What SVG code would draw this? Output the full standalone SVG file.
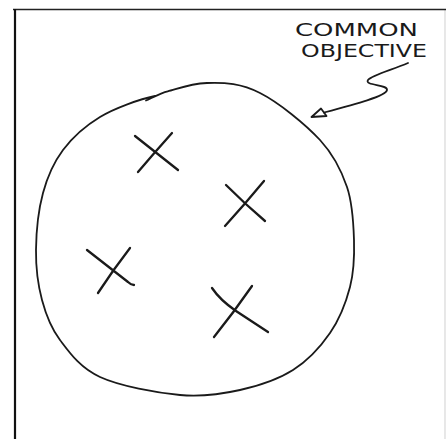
<svg xmlns="http://www.w3.org/2000/svg" width="446" height="439" viewBox="0 0 446 439">
<style>
.ink{fill:none;stroke:#1a1a1a;stroke-linecap:round;stroke-linejoin:round}
.thin{stroke-width:1.8}
.x{stroke-width:2.3}
.lbl{font-family:"DejaVu Sans","Liberation Sans",sans-serif;font-size:17px;fill:#1a1a1a}
</style>
<rect width="446" height="439" fill="#fff"/>
<g id="frame">
<line x1="445" y1="9" x2="445" y2="439" stroke="#d8d8d8" stroke-width="1.2"/>
<line x1="13" y1="9.5" x2="446" y2="9.5" stroke="#222" stroke-width="1.6"/>
<line x1="15" y1="9" x2="15" y2="439" stroke="#111" stroke-width="2.2"/>
</g>
<g id="objective-circle">
<path class="ink thin" d="M146,100.5 C150,99 160,93 167.8,91.3 S188.7,83.7 207,83 C225.3,82.3 241.2,83.5 260,93 C278.8,102.5 305.5,124.3 320,140 C334.5,155.7 341.3,170.3 347,187 C352.7,203.7 353.5,223.3 354,240 C354.5,256.7 354,271.5 350,287 C346,302.5 339.5,319.2 330,333 C320.5,346.8 308,360.5 293,370 C278,379.5 258.8,385.8 240,390 C221.2,394.2 203.3,397.2 180,395 C156.7,392.8 120,386.2 100,377 C80,367.8 69.7,352.8 60,340 C50.3,327.2 46,315 42,300 C38,285 35.8,267.8 36,250 C36.2,232.2 38.5,209.7 43,193 C47.5,176.3 53.5,162.7 63,150 C72.5,137.3 85.5,125.8 100,117 C114.5,108.2 140,99 155,96"/>
</g>
<g id="x1"><path class="ink x" d="M135,136 L178,170 M172,133 Q155,152 138,172"/></g>
<g id="x2"><path class="ink x" d="M226,185 Q245,204 265,221 M264,181 Q245,204 225,226"/></g>
<g id="x3"><path class="ink x" d="M87,250 L128,282 Q131,285 134,285 M130,248 Q113,270 98,293"/></g>
<g id="x4"><path class="ink x" d="M212,288 Q220,300 236,311 L268,332 M252,286 Q234,312 214,337"/></g>
<g id="label">
<text class="lbl" x="295" y="36" textLength="123" lengthAdjust="spacingAndGlyphs">COMMON</text>
<text class="lbl" x="301" y="57" textLength="126" lengthAdjust="spacingAndGlyphs">OBJECTIVE</text>
</g>
<g id="connectors">
<path class="ink thin" d="M408,63 C392,70 372,75 368,80 C364,86 388,84 387,90 C386,96 356,104 324,112.5"/>
<path class="ink thin" d="M311.5,117 L321,108.5 L326.5,116 Z"/>
</g>
</svg>
